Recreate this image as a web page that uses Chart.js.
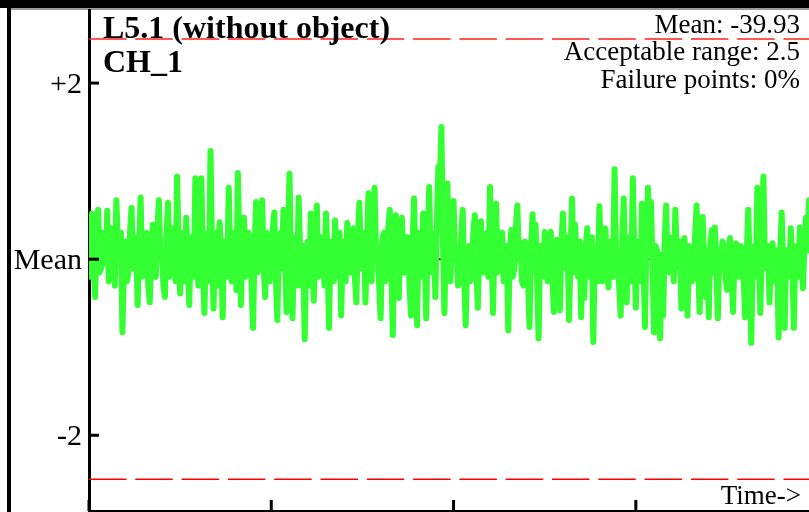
<!DOCTYPE html>
<html>
<head>
<meta charset="utf-8">
<script src="https://cdn.jsdelivr.net/npm/chart.js@4.4.1/dist/chart.umd.min.js"></script>
<style>
  html, body { margin: 0; padding: 0; background: #fff; overflow: hidden; }
  canvas { display: block; }
</style>
</head>
<body>
<canvas id="chart" width="809" height="512"></canvas>
<script>
// deviation from mean, one sample per step along time
const deviation = [
  0.10, -0.20, 0.52, 0.05, -0.43, 0.20, 0.56, -0.15, -0.10, 0.30, 0.25, -0.05, 0.55, -0.25, -0.20, 0.35, 0.15, -0.30, 0.67, 0.20,
  0.05, 0.30, -0.83, -0.10, 0.20, -0.25, -0.15, 0.30, 0.58, -0.10, 0.10, 0.25, -0.52, 0.15, 0.70, -0.20, -0.05, 0.25, 0.30, -0.30,
  -0.49, 0.10, 0.39, -0.15, -0.20, 0.30, 0.67, 0.05, 0.10, -0.30, -0.43, 0.25, 0.64, -0.20, -0.10, 0.35, 0.20, -0.25, 0.94, 0.10,
  -0.39, 0.30, 0.15, -0.25, 0.47, 0.00, -0.52, 0.25, 0.20, -0.20, 0.92, 0.15, -0.30, 0.40, 0.92, -0.10, -0.61, 0.20, 0.30, -0.25,
  1.23, 0.10, -0.56, 0.30, 0.10, -0.30, 0.42, 0.05, -0.66, 0.20, 0.15, -0.20, 0.81, 0.00, -0.25, 0.30, 0.30, -0.35, 0.98, 0.15,
  -0.52, 0.25, 0.47, -0.20, -0.10, 0.30, 0.25, -0.30, -0.78, 0.10, 0.65, -0.15, 0.05, 0.35, 0.67, -0.10, -0.43, 0.30, 0.20, -0.25,
  -0.15, 0.35, 0.53, -0.20, -0.69, 0.15, 0.30, -0.10, 0.56, 0.10, -0.60, 0.25, 0.97, -0.15, -0.67, 0.20, 0.25, -0.30, 0.70, 0.10,
  -0.30, 0.15, -0.91, 0.05, 0.20, -0.30, 0.52, 0.00, -0.47, 0.30, 0.61, -0.20, -0.10, 0.25, 0.15, -0.30, 0.52, 0.10, -0.78, 0.20,
  0.10, -0.25, 0.44, 0.05, -0.20, 0.30, -0.64, 0.10, 0.20, -0.25, 0.41, 0.00, -0.15, 0.30, 0.35, -0.20, -0.49, 0.25, 0.64, -0.10,
  -0.05, 0.30, -0.49, 0.15, 0.75, -0.20, -0.25, 0.30, 0.81, 0.05, 0.05, -0.30, -0.67, 0.20, 0.30, -0.25, -0.20, 0.35, 0.56, -0.10,
  -0.86, 0.20, 0.50, -0.25, -0.44, 0.30, 0.47, -0.15, -0.15, 0.25, 0.25, -0.30, -0.64, 0.15, 0.69, -0.10, -0.75, 0.30, 0.20, -0.20,
  0.52, 0.05, -0.67, 0.25, 0.82, -0.15, 0.05, 0.30, -0.43, 0.40, 1.05, 0.90, 1.50, 0.20, -0.61, 0.30, 0.86, -0.10, -0.25, 0.35,
  0.66, 0.00, 0.10, -0.30, -0.22, 0.25, 0.56, -0.20, -0.75, 0.10, 0.15, -0.25, -0.20, 0.30, 0.50, -0.10, -0.55, 0.20, 0.43, -0.15,
  -0.15, 0.25, 0.30, -0.20, 0.82, 0.10, -0.61, 0.25, 0.63, -0.15, -0.10, 0.30, 0.30, -0.25, -0.25, 0.15, -0.81, 0.05, 0.33, -0.20,
  -0.10, 0.35, 0.61, 0.00, 0.19, -0.25, -0.30, 0.20, 0.15, -0.20, -0.77, 0.10, 0.51, -0.10, 0.39, -0.25, -0.90, 0.15, 0.10, -0.20,
  0.31, 0.05, -0.25, 0.25, 0.31, -0.15, -0.60, 0.10, 0.22, -0.20, -0.58, 0.15, 0.52, -0.05, -0.10, 0.25, -0.69, 0.05, 0.69, -0.15,
  0.39, 0.00, -0.20, 0.20, -0.66, 0.05, -0.44, 0.15, 0.35, -0.20, -0.10, 0.25, -0.94, 0.10, 0.15, -0.25, 0.60, 0.05, -0.25, 0.25,
  0.35, -0.15, -0.32, 0.20, 0.20, -0.20, 1.02, 0.05, 0.10, -0.30, -0.64, 0.15, 0.69, -0.15, -0.49, 0.20, 0.25, -0.25, 0.92, 0.05,
  -0.55, 0.20, 0.15, -0.25, 0.63, 0.00, -0.77, 0.20, 0.81, 0.30, 0.65, -0.10, -0.83, 0.15, 0.10, -0.25, -0.90, 0.05, -0.64, 0.20,
  0.61, -0.10, -0.15, 0.25, 0.20, -0.25, 0.56, 0.05, -0.10, 0.20, -0.56, 0.10, 0.24, -0.20, -0.64, 0.15, 0.10, -0.25, -0.20, 0.25,
  0.61, -0.10, -0.60, 0.15, 0.48, 0.00, -0.43, 0.10, -0.66, 0.15, 0.33, -0.15, 0.36, -0.10, -0.67, 0.10, -0.10, 0.20, 0.13, -0.20,
  -0.35, 0.10, 0.24, -0.15, -0.60, 0.10, 0.18, -0.20, -0.20, 0.15, 0.10, -0.25, -0.66, 0.05, 0.56, -0.15, -0.95, 0.10, 0.15, -0.20,
  0.81, 0.00, -0.61, 0.20, 0.94, -0.10, -0.10, 0.15, -0.49, 0.05, 0.18, -0.25, -0.20, 0.10, -0.89, 0.05, 0.53, -0.15, -0.78, 0.10,
  0.10, -0.20, 0.35, 0.00, -0.78, 0.10, 0.15, -0.20, 0.36, 0.00, -0.33, 0.15, 0.47, 0.10, 0.67, -0.15, 0.10, -0.20, -0.30, 0.15
];
const samplesPerTick = 120;
const yTicks = [-2, 0, 2];
const yTickLabels = ['-2', 'Mean', '+2'];
const xTicks = [0, 1, 2, 3];
const acceptableRange = 2.5;
const meanValue = '-39.93';
const failurePct = '0%';
const titleText = 'L5.1 (without object)';
const channelText = 'CH_1';

const xMax = 3.95;
const series = deviation.map((v, i) => ({ x: i / samplesPerTick, y: v }));
const flat = v => [{ x: 0, y: v }, { x: xMax, y: v }];

const serif = '"Liberation Serif", "DejaVu Serif", serif';

const decor = {
  id: 'decor',
  beforeDraw(chart) {
    const c = chart.ctx;
    c.save();
    c.fillStyle = '#000';
    c.fillRect(0, 0, 809, 8);
    c.fillRect(7, 0, 4, 512);
    c.fillStyle = '#9a9a9a';
    c.fillRect(11, 8, 798, 2);
    c.restore();
  },
  afterDraw(chart) {
    const c = chart.ctx;
    const xs = chart.scales.x, ys = chart.scales.y;
    const a = chart.chartArea;
    c.save();
    c.fillStyle = '#000';
    c.font = '30px ' + serif;
    c.textAlign = 'right';
    c.textBaseline = 'middle';
    yTicks.forEach((t, i) => {
      const y = ys.getPixelForValue(t);
      c.fillRect(a.left, y - 1.5, 10, 3);
      c.fillText(yTickLabels[i], 82, y + 2);
    });
    xTicks.forEach(t => {
      const x = xs.getPixelForValue(t);
      c.fillRect(x - 1.5, a.bottom - 11, 3, 11);
    });
    c.textBaseline = 'alphabetic';
    c.textAlign = 'left';
    c.font = 'bold 32px ' + serif;
    c.fillText(titleText, 103, 38);
    c.fillText(channelText, 103, 72);
    c.textAlign = 'right';
    c.font = '27px ' + serif;
    c.fillText('Mean: ' + meanValue, 800, 33);
    c.fillText('Acceptable range: ' + acceptableRange, 800, 60);
    c.fillText('Failure points: ' + failurePct, 800, 88);
    c.fillText('Time->', 801, 504);
    c.restore();
  }
};

new Chart(document.getElementById('chart'), {
  type: 'line',
  data: {
    datasets: [
      { data: series, borderColor: '#33ff33', borderWidth: 6, pointRadius: 0,
        borderJoinStyle: 'round', borderCapStyle: 'round', tension: 0 },
      { data: flat(0), borderColor: '#000', borderWidth: 2, borderDash: [2, 3], pointRadius: 0 },
      { data: flat(acceptableRange), borderColor: '#ff2020', borderWidth: 1.5, borderDash: [37.5, 8.8], pointRadius: 0 },
      { data: flat(-acceptableRange), borderColor: '#ff0000', borderWidth: 1.5, borderDash: [37.5, 8.8], pointRadius: 0 }
    ]
  },
  options: {
    responsive: false,
    animation: false,
    devicePixelRatio: 1,
    layout: { padding: { top: 10, left: 0, right: 0, bottom: 0 } },
    plugins: { legend: { display: false }, tooltip: { enabled: false } },
    scales: {
      x: {
        type: 'linear', min: 0, max: xMax,
        grid: { display: false },
        border: { display: true, color: '#000', width: 3 },
        ticks: { display: false },
        afterFit: s => { s.height = 1; }
      },
      y: {
        min: -2.86, max: 2.83,
        grid: { display: false, drawTicks: false },
        border: { display: true, color: '#000', width: 3 },
        ticks: { display: false },
        afterFit: s => { s.width = 89; }
      }
    }
  },
  plugins: [decor]
});
</script>
</body>
</html>
